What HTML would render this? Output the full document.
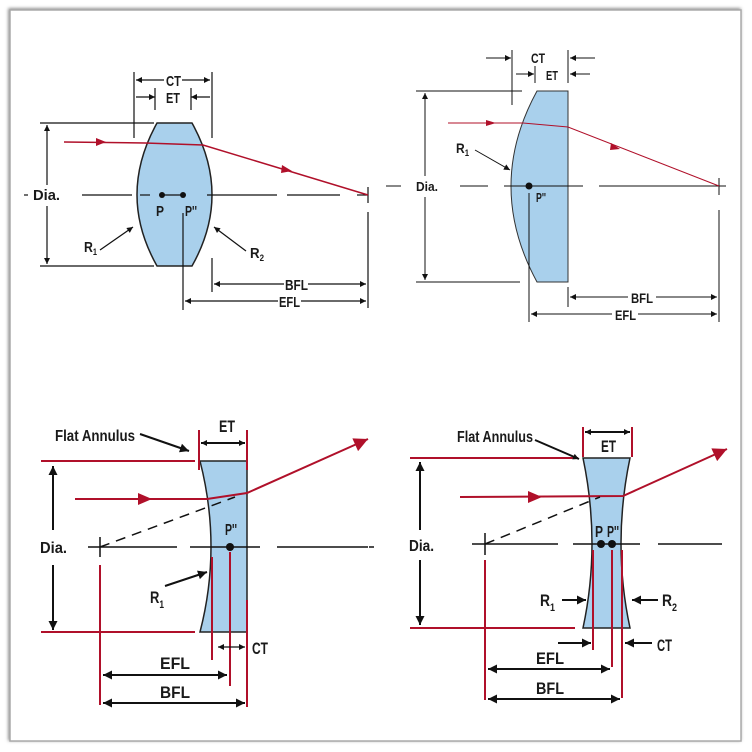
<!DOCTYPE html>
<html><head><meta charset="utf-8"><style>
html,body{margin:0;padding:0;background:#fff;}
svg{display:block;}
text{font-family:"Liberation Sans",sans-serif;font-weight:bold;fill:#1a1a1a;}
</style></head><body>
<svg width="752" height="752" viewBox="0 0 752 752" xmlns="http://www.w3.org/2000/svg">
<defs>
<marker id="a" viewBox="0 0 10 10" refX="10" refY="5" markerWidth="7" markerHeight="6" orient="auto-start-reverse" markerUnits="userSpaceOnUse"><path d="M0,0 L10,5 L0,10 z" fill="#111"/></marker>
<marker id="b" viewBox="0 0 10 10" refX="10" refY="5" markerWidth="11" markerHeight="9" orient="auto-start-reverse" markerUnits="userSpaceOnUse"><path d="M0,0 L10,5 L0,10 z" fill="#111"/></marker>
<marker id="rb" viewBox="0 0 10 10" refX="10" refY="5" markerWidth="22" markerHeight="14" orient="auto" markerUnits="userSpaceOnUse"><path d="M0,0 L10,5 L0,10 z" fill="#b0102a"/></marker>
<filter id="sh" x="-5%" y="-5%" width="110%" height="110%"><feDropShadow dx="-1" dy="-1" stdDeviation="1.5" flood-color="#888"/></filter>
</defs>
<rect x="10" y="10" width="731" height="731" fill="#fff" stroke="#aaa" stroke-width="1.5" filter="url(#sh)"/>

<!-- Q1 biconvex -->
<path d="M157,123 L192,123 Q232,195 192,266 L157,266 Q117,195 157,123 Z" fill="#a9d0ec" stroke="#222" stroke-width="1.5"/>
<g stroke="#111" stroke-width="1.2" fill="none">
<line x1="134" y1="72" x2="134" y2="138"/><line x1="212" y1="72" x2="212" y2="138"/>
<line x1="155" y1="88" x2="155" y2="110"/><line x1="191" y1="88" x2="191" y2="110"/>
<line x1="136" y1="80" x2="164" y2="80" marker-start="url(#a)"/><line x1="182" y1="80" x2="210" y2="80" marker-end="url(#a)"/>
<line x1="136" y1="97" x2="155" y2="97" marker-end="url(#a)"/><line x1="210" y1="97" x2="191" y2="97" marker-end="url(#a)"/>
<line x1="40" y1="123" x2="154" y2="123"/><line x1="40" y1="266" x2="154" y2="266"/>
<line x1="47" y1="125" x2="47" y2="185" marker-start="url(#a)"/><line x1="47" y1="206" x2="47" y2="264" marker-end="url(#a)"/>
<line x1="24" y1="195" x2="28" y2="195"/>
<line x1="82" y1="195" x2="132" y2="195"/><line x1="140" y1="195" x2="150" y2="195"/>
<line x1="162" y1="195" x2="183" y2="195"/><line x1="207" y1="195" x2="277" y2="195"/>
<line x1="287" y1="195" x2="340" y2="195"/><line x1="357" y1="195" x2="368" y2="195"/>
<line x1="368" y1="187" x2="368" y2="203"/><line x1="368" y1="212" x2="368" y2="308"/>
<line x1="183" y1="213" x2="183" y2="310"/><line x1="212" y1="258" x2="212" y2="292"/>
<line x1="100" y1="250" x2="133" y2="227" marker-end="url(#a)"/>
<line x1="246" y1="251" x2="214" y2="227" marker-end="url(#a)"/>
<line x1="214" y1="284" x2="284" y2="284" marker-start="url(#a)"/><line x1="308" y1="284" x2="366" y2="284" marker-end="url(#a)"/>
<line x1="185" y1="301" x2="278" y2="301" marker-start="url(#a)"/><line x1="301" y1="301" x2="366" y2="301" marker-end="url(#a)"/>
</g>
<circle cx="162" cy="195" r="3" fill="#111"/><circle cx="183" cy="195" r="3" fill="#111"/>
<polyline points="64,142 145,143 203,145 368,195" stroke="#b0102a" stroke-width="1.5" fill="none"/>
<path d="M96,138 L106,142 L96,146 z" fill="#b0102a"/>
<path d="M282,165 L292,171 L281,173 z" fill="#b0102a"/>
<text x="166" y="86" font-size="15" textLength="15" lengthAdjust="spacingAndGlyphs">CT</text>
<text x="166" y="103" font-size="15" textLength="14" lengthAdjust="spacingAndGlyphs">ET</text>
<text x="33" y="200" font-size="15" textLength="27" lengthAdjust="spacingAndGlyphs">Dia.</text>
<text x="156" y="216" font-size="15" textLength="8" lengthAdjust="spacingAndGlyphs">P</text><text x="185" y="216" font-size="15" textLength="12" lengthAdjust="spacingAndGlyphs">P''</text>
<text x="84" y="252" font-size="15" textLength="13" lengthAdjust="spacingAndGlyphs">R<tspan font-size="9" dy="3">1</tspan></text>
<text x="250" y="258" font-size="15" textLength="14" lengthAdjust="spacingAndGlyphs">R<tspan font-size="9" dy="3">2</tspan></text>
<text x="285" y="290" font-size="15" textLength="23" lengthAdjust="spacingAndGlyphs">BFL</text>
<text x="279" y="307" font-size="15" textLength="21" lengthAdjust="spacingAndGlyphs">EFL</text>

<!-- Q2 plano-convex -->
<path d="M537,91 L568,91 L568,282 L537,282 Q485,186 537,91 Z" fill="#a9d0ec" stroke="#333" stroke-width="1"/>
<g stroke="#111" stroke-width="1" fill="none">
<line x1="512" y1="50" x2="512" y2="105"/><line x1="568" y1="50" x2="568" y2="83"/>
<line x1="535" y1="66" x2="535" y2="83"/>
<line x1="486" y1="58" x2="511" y2="58" marker-end="url(#a)"/><line x1="595" y1="58" x2="570" y2="58" marker-end="url(#a)"/>
<line x1="516" y1="74" x2="534" y2="74" marker-end="url(#a)"/><line x1="590" y1="74" x2="570" y2="74" marker-end="url(#a)"/>
<line x1="416" y1="91" x2="522" y2="91"/><line x1="416" y1="282" x2="520" y2="282"/>
<line x1="425" y1="93" x2="425" y2="176" marker-start="url(#a)"/><line x1="425" y1="197" x2="425" y2="280" marker-end="url(#a)"/>
<line x1="386" y1="186" x2="401" y2="186"/><line x1="460" y1="186" x2="488" y2="186"/>
<line x1="504" y1="186" x2="583" y2="186"/><line x1="599" y1="186" x2="726" y2="186"/>
<line x1="719" y1="178" x2="719" y2="195"/><line x1="719" y1="210" x2="719" y2="322"/>
<line x1="529" y1="193" x2="529" y2="322"/><line x1="568" y1="287" x2="568" y2="307"/>
<line x1="475" y1="150" x2="510" y2="170" marker-end="url(#a)"/>
<line x1="570" y1="297" x2="628" y2="297" marker-start="url(#a)"/><line x1="656" y1="297" x2="717" y2="297" marker-end="url(#a)"/>
<line x1="531" y1="314" x2="612" y2="314" marker-start="url(#a)"/><line x1="638" y1="314" x2="717" y2="314" marker-end="url(#a)"/>
</g>
<circle cx="529" cy="186" r="3.5" fill="#111"/>
<polyline points="448,123 523,123 568,127 719,186" stroke="#b0102a" stroke-width="1" fill="none"/>
<path d="M486,120 L496,123 L486,126 z" fill="#b0102a"/>
<path d="M611,143 L620,149 L610,150 z" fill="#b0102a"/>
<text x="531" y="63" font-size="14" textLength="14" lengthAdjust="spacingAndGlyphs">CT</text>
<text x="546" y="80" font-size="13" textLength="12" lengthAdjust="spacingAndGlyphs">ET</text>
<text x="416" y="191" font-size="13" textLength="22" lengthAdjust="spacingAndGlyphs">Dia.</text>
<text x="456" y="153" font-size="14" textLength="13" lengthAdjust="spacingAndGlyphs">R<tspan font-size="9" dy="3">1</tspan></text>
<text x="536" y="202" font-size="13" textLength="10" lengthAdjust="spacingAndGlyphs">P''</text>
<text x="631" y="303" font-size="14" textLength="22" lengthAdjust="spacingAndGlyphs">BFL</text>
<text x="615" y="320" font-size="14" textLength="21" lengthAdjust="spacingAndGlyphs">EFL</text>

<!-- Q3 plano-concave -->
<path d="M200,461 L247,461 L247,632 L200,632 Q222,547 200,461 Z" fill="#a9d0ec" stroke="#222" stroke-width="1.5"/>
<g stroke="#b0102a" stroke-width="2" fill="none">
<line x1="41" y1="461" x2="195" y2="461"/><line x1="41" y1="632" x2="195" y2="632"/>
<line x1="199" y1="430" x2="199" y2="470"/><line x1="247" y1="430" x2="247" y2="470"/>
<line x1="100" y1="565" x2="100" y2="705"/><line x1="230" y1="552" x2="230" y2="686"/>
<line x1="212" y1="557" x2="212" y2="660"/><line x1="247" y1="600" x2="247" y2="707"/>
<polyline points="75,499 207,499 247,493 368,439" marker-end="url(#rb)"/>
</g>
<path d="M138,493 L152,499 L138,505 z" fill="#b0102a"/>
<g stroke="#111" stroke-width="2" fill="none">
<line x1="201" y1="443" x2="245" y2="443" marker-start="url(#a)" marker-end="url(#a)"/>
<line x1="140" y1="434" x2="189" y2="451" marker-end="url(#b)"/>
<line x1="53" y1="466" x2="53" y2="530" marker-start="url(#b)"/><line x1="53" y1="565" x2="53" y2="630" marker-end="url(#b)"/>
<line x1="88" y1="547" x2="177" y2="547" stroke-width="1.5"/><line x1="190" y1="547" x2="260" y2="547" stroke-width="1.5"/><line x1="277" y1="547" x2="368" y2="547" stroke-width="1.5"/>
<line x1="100" y1="537" x2="100" y2="557" stroke-width="1.5"/>
<line x1="100" y1="547" x2="235" y2="497" stroke-width="1.5" stroke-dasharray="10,7"/>
<line x1="165" y1="586" x2="207" y2="572" marker-end="url(#b)"/>
<line x1="218" y1="647" x2="245" y2="647" stroke-width="1.2" marker-start="url(#a)" marker-end="url(#a)"/>
<line x1="103" y1="675" x2="227" y2="675" marker-start="url(#b)" marker-end="url(#b)"/>
<line x1="103" y1="703" x2="245" y2="703" marker-start="url(#b)" marker-end="url(#b)"/>
</g>
<circle cx="230" cy="547" r="4" fill="#111"/>
<text x="55" y="441" font-size="16" textLength="80" lengthAdjust="spacingAndGlyphs">Flat Annulus</text>
<text x="219" y="432" font-size="17" textLength="16" lengthAdjust="spacingAndGlyphs">ET</text>
<text x="40" y="553" font-size="16" textLength="27" lengthAdjust="spacingAndGlyphs">Dia.</text>
<text x="225" y="535" font-size="16" textLength="12" lengthAdjust="spacingAndGlyphs">P''</text>
<text x="150" y="603" font-size="17" textLength="14" lengthAdjust="spacingAndGlyphs">R<tspan font-size="11" dy="5">1</tspan></text>
<text x="252" y="654" font-size="17" textLength="16" lengthAdjust="spacingAndGlyphs">CT</text>
<text x="160" y="669" font-size="17" textLength="30" lengthAdjust="spacingAndGlyphs">EFL</text>
<text x="160" y="698" font-size="17" textLength="30" lengthAdjust="spacingAndGlyphs">BFL</text>

<!-- Q4 double-concave -->
<path d="M583,458 L630,458 Q612,544 630,628 L583,628 Q601,544 583,458 Z" fill="#a9d0ec" stroke="#222" stroke-width="1.5"/>
<g stroke="#b0102a" stroke-width="2" fill="none">
<line x1="410" y1="458" x2="578" y2="458"/><line x1="410" y1="628" x2="575" y2="628"/>
<line x1="583" y1="427" x2="583" y2="457"/><line x1="632" y1="427" x2="632" y2="457"/>
<line x1="485" y1="560" x2="485" y2="700"/>
<line x1="593" y1="550" x2="593" y2="650"/><line x1="612" y1="550" x2="612" y2="667"/><line x1="622" y1="550" x2="622" y2="698"/>
<polyline points="460,497 623,496 727,449" marker-end="url(#rb)"/>
</g>
<path d="M528,491 L542,497 L528,503 z" fill="#b0102a"/>
<g stroke="#111" stroke-width="2" fill="none">
<line x1="585" y1="432" x2="630" y2="432" marker-start="url(#a)" marker-end="url(#a)"/>
<line x1="535" y1="440" x2="579" y2="459" marker-end="url(#a)"/>
<line x1="420" y1="462" x2="420" y2="530" marker-start="url(#b)"/><line x1="420" y1="560" x2="420" y2="625" marker-end="url(#b)"/>
<line x1="472" y1="544" x2="558" y2="544" stroke-width="1.5"/><line x1="573" y1="544" x2="640" y2="544" stroke-width="1.5"/><line x1="658" y1="544" x2="722" y2="544" stroke-width="1.5"/>
<line x1="485" y1="533" x2="485" y2="555" stroke-width="1.5"/>
<line x1="485" y1="544" x2="600" y2="497" stroke-width="1.5" stroke-dasharray="10,7"/>
<line x1="562" y1="600" x2="586" y2="600" marker-end="url(#b)"/>
<line x1="658" y1="600" x2="632" y2="600" marker-end="url(#b)"/>
<line x1="558" y1="643" x2="591" y2="643" marker-end="url(#b)"/>
<line x1="652" y1="643" x2="625" y2="643" marker-end="url(#b)"/>
<line x1="488" y1="669" x2="610" y2="669" marker-start="url(#b)" marker-end="url(#b)"/>
<line x1="488" y1="699" x2="620" y2="699" marker-start="url(#b)" marker-end="url(#b)"/>
</g>
<circle cx="601" cy="544" r="4" fill="#111"/><circle cx="612" cy="544" r="4" fill="#111"/>
<text x="457" y="442" font-size="16" textLength="76" lengthAdjust="spacingAndGlyphs">Flat Annulus</text>
<text x="601" y="452" font-size="17" textLength="15" lengthAdjust="spacingAndGlyphs">ET</text>
<text x="409" y="551" font-size="16" textLength="25" lengthAdjust="spacingAndGlyphs">Dia.</text>
<text x="595" y="537" font-size="16" textLength="8" lengthAdjust="spacingAndGlyphs">P</text><text x="607" y="537" font-size="16" textLength="12" lengthAdjust="spacingAndGlyphs">P''</text>
<text x="540" y="606" font-size="17" textLength="15" lengthAdjust="spacingAndGlyphs">R<tspan font-size="11" dy="5">1</tspan></text>
<text x="662" y="606" font-size="17" textLength="15" lengthAdjust="spacingAndGlyphs">R<tspan font-size="11" dy="5">2</tspan></text>
<text x="657" y="651" font-size="17" textLength="15" lengthAdjust="spacingAndGlyphs">CT</text>
<text x="536" y="664" font-size="17" textLength="28" lengthAdjust="spacingAndGlyphs">EFL</text>
<text x="536" y="694" font-size="17" textLength="28" lengthAdjust="spacingAndGlyphs">BFL</text>
<line x1="369" y1="547" x2="374" y2="547" stroke="#111" stroke-width="1.5"/>
</svg>
</body></html>
